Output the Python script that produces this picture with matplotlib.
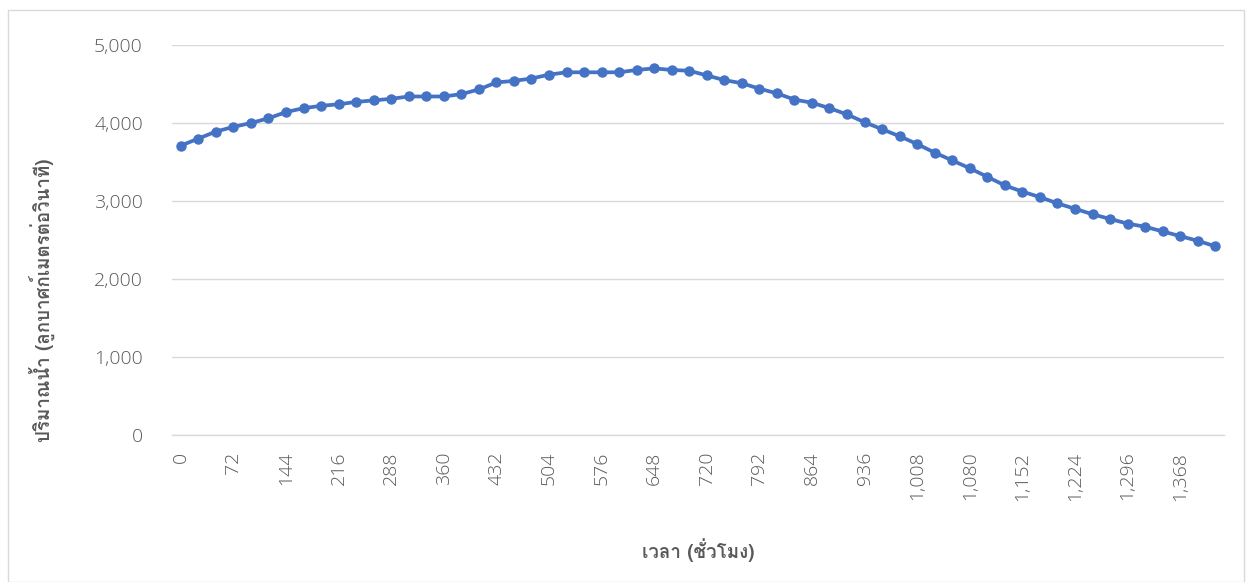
import matplotlib
matplotlib.use("Agg")
import matplotlib.pyplot as plt
from matplotlib import font_manager
from matplotlib.ft2font import FT2Font
from matplotlib.patches import Rectangle

# ===== ข้อมูล =====
hours = [0, 24, 48, 72, 96, 120, 144, 168, 192, 216,
         240, 264, 288, 312, 336, 360, 384, 408, 432, 456,
         480, 504, 528, 552, 576, 600, 624, 648, 672, 696,
         720, 744, 768, 792, 816, 840, 864, 888, 912, 936,
         960, 984, 1008, 1032, 1056, 1080, 1104, 1128, 1152, 1176,
         1200, 1224, 1248, 1272, 1296, 1320, 1344, 1368, 1392, 1416]
flow = [3710, 3800, 3890, 3950, 4000, 4060, 4140, 4190, 4220, 4240,
        4270, 4290, 4310, 4340, 4340, 4340, 4370, 4430, 4520, 4540,
        4570, 4620, 4650, 4650, 4650, 4650, 4680, 4700, 4680, 4670,
        4610, 4550, 4510, 4440, 4380, 4300, 4260, 4190, 4110, 4010,
        3920, 3830, 3730, 3620, 3520, 3420, 3310, 3200, 3120, 3050,
        2970, 2900, 2830, 2770, 2710, 2670, 2610, 2550, 2490, 2420]
y_ticks = [0, 1000, 2000, 3000, 4000, 5000]
x_label = "เวลา (ชั่วโมง)"
y_label = "ปริมาณน้ำ (ลูกบาศก์เมตรต่อวินาที)"


# ===== หาฟอนต์ที่มีอักษรไทย =====
def find_thai_font():
    for f in font_manager.fontManager.ttflist:
        try:
            cmap = FT2Font(f.fname).get_charmap()
        except Exception:
            continue
        if 0x0E01 in cmap and 0x0E49 in cmap and 0x0E32 in cmap:
            return f.name
    return None


thai = find_thai_font()
families = [thai, "DejaVu Sans"] if thai else ["DejaVu Sans"]
plt.rcParams["font.family"] = families

grey = "#595959"
blue = "#4472C4"

W, H = 1246, 582
fig = plt.figure(figsize=(W / 100, H / 100), dpi=100)

# กรอบนอกของแผนภูมิ
fig.patches.append(Rectangle((8 / W, 0), (1244 - 8) / W, (582 - 10) / H,
                             transform=fig.transFigure, fill=False,
                             edgecolor="#D9D9D9", linewidth=1.0))

ax = fig.add_axes([172 / W, 1 - 435 / H, (1224 - 172) / W, (435 - 45) / H])

pos = list(range(len(hours)))
ax.plot(pos, flow, color=blue, linewidth=2.7, marker="o", markersize=6.5,
        markerfacecolor=blue, markeredgecolor=blue, zorder=3)

ax.set_xlim(-0.5, len(hours) - 0.5)
ax.set_ylim(0, 5000)

ax.set_yticks(y_ticks)
ax.set_yticklabels([f"{v:,}" for v in y_ticks])
ax.yaxis.grid(True, color="#D9D9D9", linewidth=1.0)
ax.set_axisbelow(True)

tick_pos = pos[::3]
ax.set_xticks(tick_pos)
ax.set_xticklabels([f"{hours[i]:,}" for i in tick_pos], rotation=90,
                   ha="center", va="top")

num_font = ["Open Sans", "DejaVu Sans"]
for lab in ax.get_xticklabels() + ax.get_yticklabels():
    lab.set_fontfamily(num_font)
    lab.set_fontweight("light")

ax.tick_params(axis="y", length=0, pad=21, labelsize=14, labelcolor=grey)
ax.tick_params(axis="x", length=0, pad=12, labelsize=14, labelcolor=grey)

for s in ["left", "right", "top"]:
    ax.spines[s].set_visible(False)
ax.spines["bottom"].set_color("#D9D9D9")
ax.spines["bottom"].set_linewidth(1.0)

fig.text(698 / W, 1 - 550 / H, x_label, ha="center", va="center",
         fontsize=13.5, fontweight="bold", color=grey)
fig.text(42 / W, 1 - 300 / H, y_label, ha="center", va="center",
         rotation=90, fontsize=13.5, fontweight="bold", color=grey)

fig.savefig("out.png", dpi=100)
